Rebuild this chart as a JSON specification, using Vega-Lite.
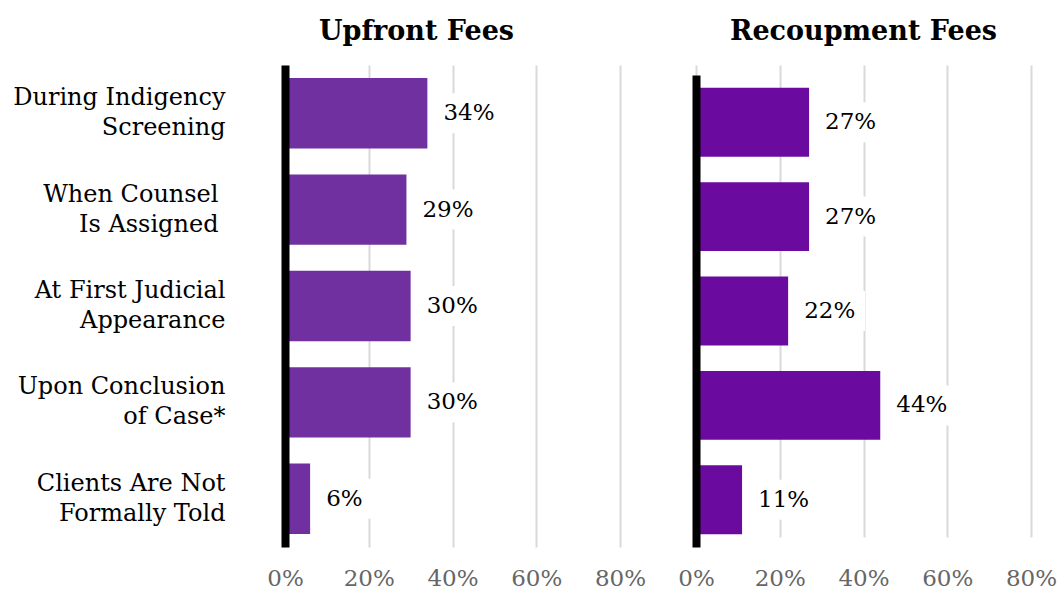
{
  "$schema": "https://vega.github.io/schema/vega-lite/v6.json",
  "background": "white",
  "padding": {"left": 10, "top": 18, "right": 0, "bottom": 0},
  "config": {"view": {"stroke": null}, "font": "DejaVu Serif", "concat": {"spacing": 31}},
  "data": {
    "values": [
      {"fee": "Upfront Fees", "timing": "During Indigency|Screening", "pct": 0.34},
      {"fee": "Upfront Fees", "timing": "When Counsel|Is Assigned", "pct": 0.29},
      {"fee": "Upfront Fees", "timing": "At First Judicial|Appearance", "pct": 0.30},
      {"fee": "Upfront Fees", "timing": "Upon Conclusion|of Case*", "pct": 0.30},
      {"fee": "Upfront Fees", "timing": "Clients Are Not|Formally Told", "pct": 0.06},
      {"fee": "Recoupment Fees", "timing": "During Indigency|Screening", "pct": 0.27},
      {"fee": "Recoupment Fees", "timing": "When Counsel|Is Assigned", "pct": 0.27},
      {"fee": "Recoupment Fees", "timing": "At First Judicial|Appearance", "pct": 0.22},
      {"fee": "Recoupment Fees", "timing": "Upon Conclusion|of Case*", "pct": 0.44},
      {"fee": "Recoupment Fees", "timing": "Clients Are Not|Formally Told", "pct": 0.11}
    ]
  },
  "hconcat": [
    {
      "title": {"text": "Upfront Fees", "fontSize": 27, "fontWeight": "bold", "font": "DejaVu Serif", "color": "black", "offset": 19, "dx": -36},
      "width": 335,
      "height": 482,
      "transform": [{"filter": "datum.fee == 'Upfront Fees'"}],
      "encoding": {
        "y": {
          "field": "timing", "type": "nominal", "sort": null,
          "scale": {"paddingInner": 0.27, "paddingOuter": 0.135},
          "axis": {"title": null, "ticks": false, "grid": false, "domainColor": "black", "domainWidth": 8, "labelFontSize": 24, "labelColor": "black", "labelPadding": {"condition": {"test": "indexof(datum.value, 'When') == 0", "value": 67}, "value": 60}, "labelLineHeight": 30, "labelOffset": -15, "labelExpr": "split(datum.label, '|')", "labelLimit": 300, "minExtent": 275, "maxExtent": 275, "zindex": 1}
        },
        "x": {
          "field": "pct", "type": "quantitative",
          "scale": {"domain": [0, 0.8]},
          "axis": {"title": null, "values": [0, 0.2, 0.4, 0.6, 0.8], "format": ".0%", "domain": false, "ticks": false, "grid": true, "gridColor": "#d9d9d9", "gridWidth": 2, "labelFontSize": 23, "labelColor": "#666666", "labelPadding": 20, "labelFlush": false}
        }
      },
      "layer": [
        {"mark": {"type": "bar", "color": "#7030A0"}},
        {"mark": {"type": "point", "shape": "M-3.5,-2H3.5V2H-3.5Z", "size": 400, "filled": true, "color": "white", "opacity": 1, "strokeWidth": 0, "xOffset": 42}},
        {"mark": {"type": "text", "align": "left", "dx": 16, "fontSize": 23, "color": "black"}, "encoding": {"text": {"field": "pct", "type": "quantitative", "format": ".0%"}}}
      ]
    },
    {
      "title": {"text": "Recoupment Fees", "fontSize": 27, "fontWeight": "bold", "font": "DejaVu Serif", "color": "black", "offset": 19},
      "width": 335,
      "height": 482,
      "transform": [{"filter": "datum.fee == 'Recoupment Fees'"}],
      "encoding": {
        "y": {
          "field": "timing", "type": "nominal", "sort": null,
          "scale": {"paddingInner": 0.27, "paddingOuter": 0.135, "range": [10, 482]},
          "axis": {"title": null, "ticks": false, "labels": false, "grid": false, "domainColor": "black", "domainWidth": 8, "minExtent": 0, "maxExtent": 0, "zindex": 1}
        },
        "x": {
          "field": "pct", "type": "quantitative",
          "scale": {"domain": [0, 0.8]},
          "axis": {"title": null, "values": [0, 0.2, 0.4, 0.6, 0.8], "format": ".0%", "domain": false, "ticks": false, "grid": true, "gridColor": "#d9d9d9", "gridWidth": 2, "labelFontSize": 23, "labelColor": "#666666", "labelPadding": 20, "labelFlush": false}
        }
      },
      "layer": [
        {"mark": {"type": "bar", "color": "#6A0A9E"}},
        {"mark": {"type": "point", "shape": "M-3.5,-2H3.5V2H-3.5Z", "size": 400, "filled": true, "color": "white", "opacity": 1, "strokeWidth": 0, "xOffset": 42}},
        {"mark": {"type": "text", "align": "left", "dx": 16, "fontSize": 23, "color": "black"}, "encoding": {"text": {"field": "pct", "type": "quantitative", "format": ".0%"}}}
      ]
    }
  ]
}
